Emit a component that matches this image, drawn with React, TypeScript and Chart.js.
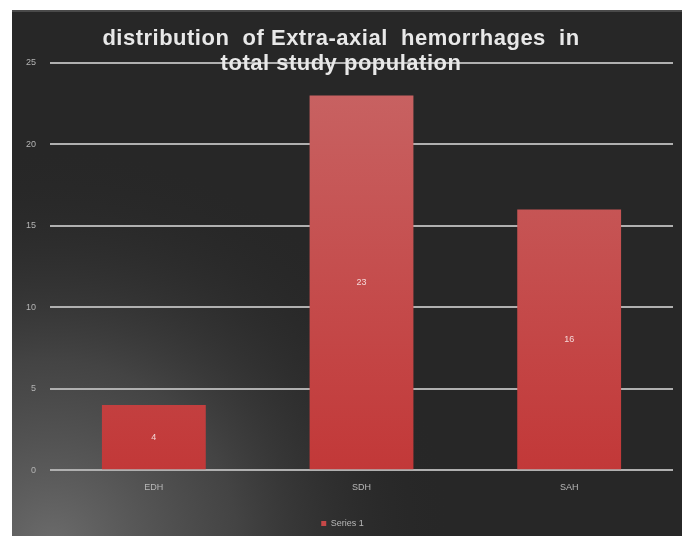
import React, { useEffect, useRef } from "react";
import { Chart, registerables } from "chart.js";

Chart.register(...registerables);

const categories = ["EDH", "SDH", "SAH"];
const seriesName = "Series 1";
const seriesValues = [4, 23, 16];
const titleLines = ["distribution  of Extra-axial  hemorrhages  in", "total study population"];
const yTicks = [0, 5, 10, 15, 20, 25];

const FONT = "'Liberation Sans', Arial, sans-serif";

// Dark panel with a soft light glow in the lower-left corner
const backgroundPlugin = {
  id: "panelBackground",
  beforeDraw(chart: any) {
    const { ctx, width, height } = chart;
    ctx.save();
    ctx.fillStyle = "#272727";
    ctx.fillRect(0, 0, width, height);
    const g = ctx.createRadialGradient(40, height + 10, 10, 40, height + 10, 400);
    g.addColorStop(0, "rgba(105,105,105,1)");
    g.addColorStop(0.45, "rgba(80,80,80,0.7)");
    g.addColorStop(1, "rgba(39,39,39,0)");
    ctx.fillStyle = g;
    ctx.fillRect(0, 0, width, height);
    // thin lighter rim along the top edge
    ctx.fillStyle = "#4a4a4a";
    ctx.fillRect(0, 0, width, 2);
    ctx.restore();
  },
};

// Value labels centred inside each bar, plus the two-line title over the plot
const overlayPlugin = {
  id: "overlayText",
  afterDatasetsDraw(chart: any) {
    const { ctx } = chart;
    const meta = chart.getDatasetMeta(0);
    ctx.save();
    ctx.font = `9px ${FONT}`;
    ctx.fillStyle = "#f4d8d8";
    ctx.textAlign = "center";
    ctx.textBaseline = "middle";
    meta.data.forEach((bar: any, i: number) => {
      const v = chart.data.datasets[0].data[i];
      ctx.fillText(String(v), bar.x, (bar.y + bar.base) / 2);
    });
    ctx.restore();
  },
  afterDraw(chart: any) {
    const { ctx, width } = chart;
    ctx.save();
    ctx.font = `bold 22px ${FONT}`;
    (ctx as any).letterSpacing = "0.5px";
    ctx.fillStyle = "#e8e8e8";
    ctx.textAlign = "center";
    ctx.textBaseline = "middle";
    const cx = width / 2 - 6;
    ctx.fillText(titleLines[0], cx, 29);
    ctx.fillText(titleLines[1], cx, 54);
    ctx.restore();
  },
};

export default function App() {
  const ref = useRef<HTMLCanvasElement | null>(null);

  useEffect(() => {
    document.body.style.margin = "0";
    const canvas = ref.current;
    if (!canvas) return;
    const ctx = canvas.getContext("2d")!;
    const grad = ctx.createLinearGradient(0, 60, 0, 460);
    grad.addColorStop(0, "#c86464");
    grad.addColorStop(1, "#c23838");

    const chart = new Chart(canvas, {
      type: "bar",
      data: {
        labels: categories,
        datasets: [
          {
            label: seriesName,
            data: seriesValues,
            backgroundColor: grad,
            borderWidth: 0,
            barPercentage: 0.5,
            categoryPercentage: 1,
          },
        ],
      },
      options: {
        animation: false,
        responsive: false,
        maintainAspectRatio: false,
        layout: { padding: { top: 53, left: 0, right: 9, bottom: -2 } },
        plugins: {
          title: { display: false },
          tooltip: { enabled: false },
          legend: {
            display: true,
            position: "bottom",
            labels: {
              color: "#b8b8b8",
              font: { family: FONT, size: 9 },
              boxWidth: 5,
              boxHeight: 5,
              padding: 14,
              generateLabels: () => [
                {
                  text: seriesName,
                  fillStyle: "#c64848",
                  strokeStyle: "#c64848",
                  lineWidth: 0,
                  fontColor: "#b8b8b8",
                  hidden: false,
                  datasetIndex: 0,
                },
              ],
            },
          },
        },
        scales: {
          x: {
            grid: { display: false, drawTicks: false },
            border: { display: false },
            ticks: {
              color: "#b8b8b8",
              font: { family: FONT, size: 9 },
              padding: 12,
            },
          },
          y: {
            min: yTicks[0],
            max: yTicks[yTicks.length - 1],
            afterBuildTicks: (axis: any) => {
              axis.ticks = yTicks.map((v) => ({ value: v }));
            },
            grid: { color: "#b0b0b0", lineWidth: 2, drawTicks: false },
            border: { display: false },
            ticks: {
              color: "#b4b4b4",
              font: { family: FONT, size: 9 },
              padding: 14,
            },
          },
        },
      },
      plugins: [backgroundPlugin, overlayPlugin],
    });
    return () => chart.destroy();
  }, []);

  return (
    <div style={{ width: 686, height: 536, background: "#ffffff", position: "relative" }}>
      <canvas
        ref={ref}
        width={670}
        height={526}
        style={{ position: "absolute", left: 12, top: 10, width: 670, height: 526 }}
      />
    </div>
  );
}
